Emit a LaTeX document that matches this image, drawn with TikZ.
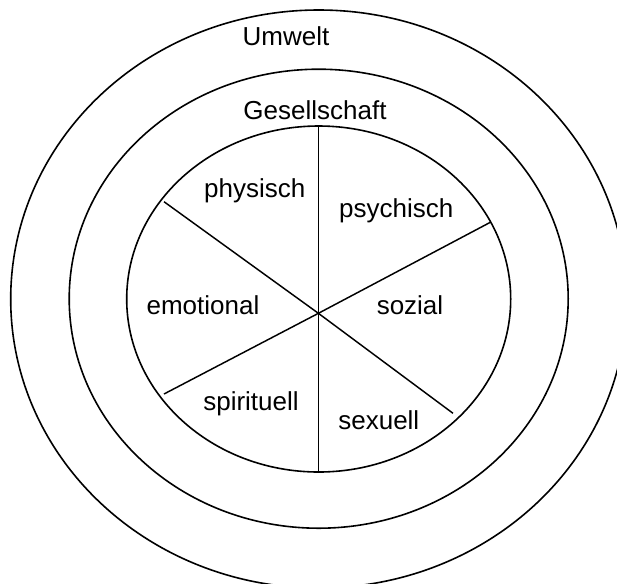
\documentclass[tikz,border=0pt]{standalone}
\usepackage{fontspec}
\setmainfont{Liberation Sans}
\usetikzlibrary{shapes.geometric}
\tikzset{
  ring/.style={draw=black, line width=1.2pt, ellipse, inner sep=0pt, outer sep=0pt},
  spoke/.style={draw=black, line width=1.1pt},
  lbl/.style={font=\fontsize{19.5pt}{23pt}\selectfont, anchor=base, inner sep=0pt}
}
\begin{document}
\begin{tikzpicture}[x=0.75pt, y=-0.75pt]
  \path[use as bounding box, clip] (0,0) rectangle (617,583);
  \fill[white] (0,0) rectangle (617,583);
  % rings
  \node[ring, minimum width=462pt, minimum height=433.5pt] (outer) at (318.7,299) {};
  \node[ring, minimum width=374.25pt, minimum height=344.25pt] (middle) at (318.7,298.7) {};
  \node[ring, minimum width=288pt, minimum height=259.5pt] (inner) at (318.7,299) {};
  % spoke hub and ends
  \coordinate (hub) at (318.4,313.3);
  \coordinate (top) at (318.4,126.5);
  \coordinate (bot) at (318.4,471.5);
  \coordinate (ul) at (164,201.7);
  \coordinate (lr) at (453,413.3);
  \coordinate (ur) at (490.3,222.3);
  \coordinate (ll) at (164,394);
  \draw[spoke] (top) -- (bot);
  \draw[spoke] (ul) -- (hub) -- (lr);
  \draw[spoke] (ur) -- (hub) -- (ll);
  % labels
  \node[lbl] (umwelt) at (286,45) {Umwelt};
  \node[lbl] (gesell) at (315,119) {Gesellschaft};
  \node[lbl] (physisch) at (254.7,197.7) {physisch};
  \node[lbl] (psychisch) at (396.3,217.7) {psychisch};
  \node[lbl] (emotional) at (203,314) {emotional};
  \node[lbl] (sozial) at (410,314) {sozial};
  \node[lbl] (spirituell) at (251,410) {spirituell};
  \node[lbl] (sexuell) at (378.8,429) {sexuell};
\end{tikzpicture}
\end{document}
